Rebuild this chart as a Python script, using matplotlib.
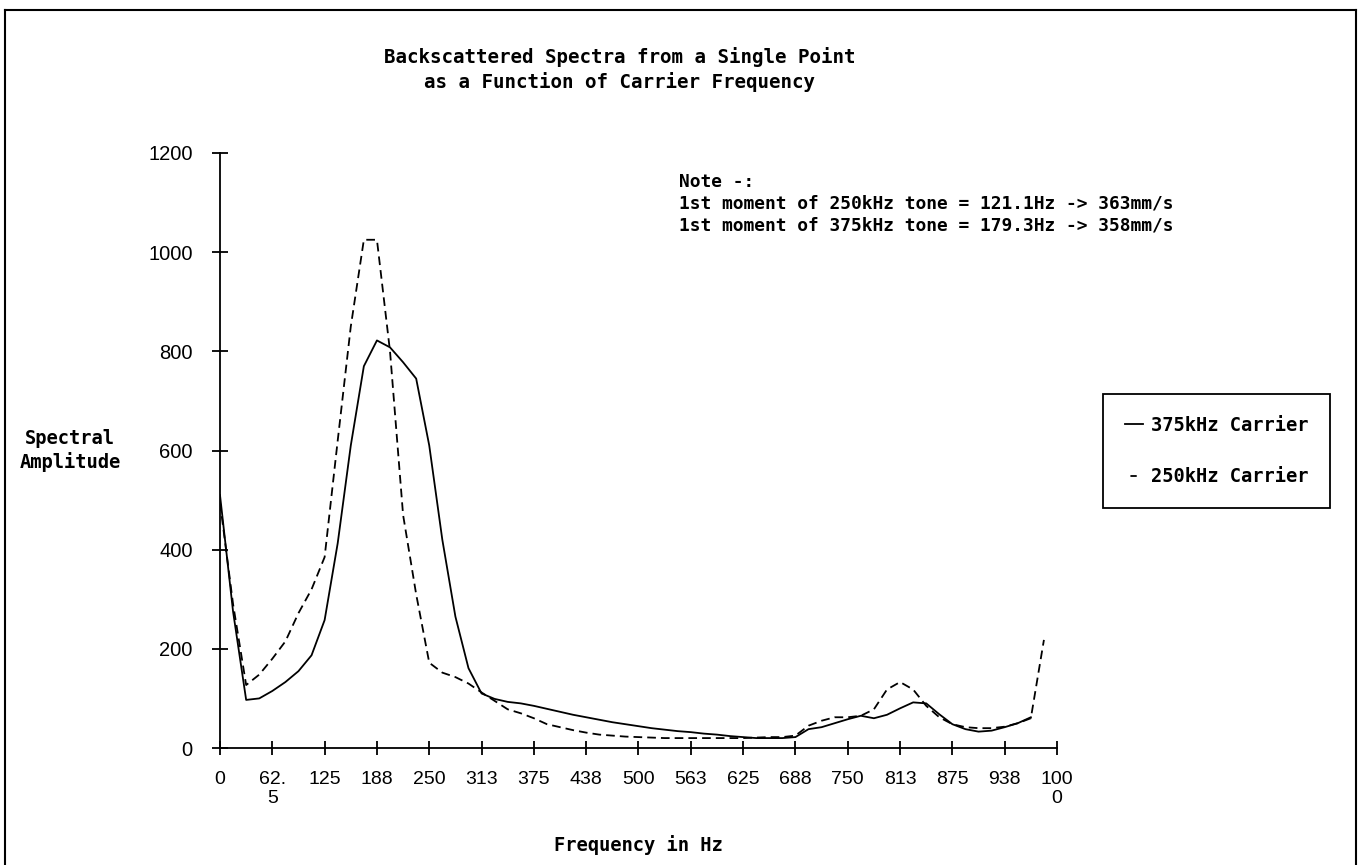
"""
Backscattered spectra from a single point, 375 kHz vs 250 kHz carrier.
"""

import numpy as np
import matplotlib
matplotlib.use("Agg")
import matplotlib.pyplot as plt
from matplotlib.lines import Line2D

# FFT bin width of the spectra (1000 Hz / 64 bins)
BIN_HZ = 15.625

# spectral amplitude per bin
amp_375 = [
    510, 275, 97, 100, 115, 133, 155, 187, 258, 413,
    610, 770, 822, 808, 778, 745, 610, 420, 265, 161,
    110, 99, 93, 90, 85, 79, 73, 67, 62, 57,
    52, 48, 44, 40, 37, 34, 32, 29, 27, 24,
    22, 20, 20, 20, 22, 38, 42, 50, 58, 65,
    60, 67, 80, 92, 90, 68, 48, 38, 33, 35,
    42, 50, 62,
]
amp_250 = [
    495, 290, 127, 148, 180, 215, 272, 320, 385, 620,
    850, 1025, 1025, 800, 470, 310, 172, 152, 143, 130,
    112, 95, 78, 70, 60, 48, 42, 36, 31, 27,
    25, 23, 22, 21, 20, 20, 20, 20, 20, 20,
    20, 21, 22, 22, 25, 45, 55, 62, 62, 65,
    78, 118, 133, 118, 85, 62, 48, 42, 40, 40,
    43, 50, 60, 218,
]
series_labels = ["375kHz Carrier", "250kHz Carrier"]

tick_hz = [i * 62.5 for i in range(17)]
tick_labels = ["0", "62.\n5", "125", "188", "250", "313", "375", "438", "500",
               "563", "625", "688", "750", "813", "875", "938", "100\n0"]
y_ticks = [0, 200, 400, 600, 800, 1000, 1200]

title = "Backscattered Spectra from a Single Point\nas a Function of Carrier Frequency"
note = ("Note -:\n"
        "1st moment of 250kHz tone = 121.1Hz -> 363mm/s\n"
        "1st moment of 375kHz tone = 179.3Hz -> 358mm/s")

MONO = "DejaVu Sans Mono"
SANS = "Liberation Sans"
W, H = 1361, 865


def main():
    fig = plt.figure(figsize=(W / 100, H / 100), dpi=100)
    fig.patch.set_facecolor("white")
    ax = fig.add_axes([220 / W, 1 - 748 / H, 837 / W, 595 / H])

    f375 = np.arange(len(amp_375)) * BIN_HZ
    f250 = np.arange(len(amp_250)) * BIN_HZ
    ax.plot(f375, amp_375, color="black", lw=1.3)
    ax.plot(f250, amp_250, color="black", lw=1.3, dashes=(4.8, 2.8))

    ax.set_xlim(0, 1000)
    ax.set_ylim(0, 1200)
    for side in ("top", "right"):
        ax.spines[side].set_visible(False)
    for side in ("left", "bottom"):
        ax.spines[side].set_linewidth(1.3)

    ax.set_xticks(tick_hz)
    ax.set_xticklabels(tick_labels, fontfamily=SANS, fontsize=14,
                       linespacing=1.15)
    ax.set_yticks(y_ticks)
    ax.set_yticklabels([str(v) for v in y_ticks], fontfamily=SANS, fontsize=14.5)
    ax.tick_params(axis="x", direction="inout", length=9.5, width=1.3, pad=12)
    ax.tick_params(axis="y", direction="inout", length=11.5, width=1.3, pad=14)

    ax.set_xlabel("Frequency in Hz", fontfamily=MONO, fontweight="bold",
                  fontsize=13.5, va="center")
    ax.xaxis.set_label_coords(0.5, -0.163)
    ax.set_ylabel("Spectral\nAmplitude", fontfamily=MONO, fontweight="bold",
                  fontsize=13.5, rotation=0, ha="center", va="center",
                  linespacing=1.2)
    ax.yaxis.set_label_coords(-0.179, 0.5)

    fig.text(620 / W, 1 - 69.5 / H, title, ha="center", va="center",
             fontfamily=MONO, fontweight="bold", fontsize=13.8, linespacing=1.3)
    fig.text(679 / W, 1 - 173 / H, note, ha="left", va="top",
             fontfamily=MONO, fontweight="bold", fontsize=12.9, linespacing=1.28)

    # 250 kHz handle shows a single short dash, centred in the handle
    handles = [
        Line2D([], [], color="black", lw=1.3),
        Line2D([], [], color="black", lw=1.3, linestyle=(20.5, (3.5, 20))),
    ]
    leg = fig.legend(handles, series_labels, loc="upper left",
                     bbox_to_anchor=(1103 / W, 1 - 394 / H),
                     prop={"family": MONO, "weight": "bold", "size": 13.5},
                     frameon=True, fancybox=False, edgecolor="black",
                     framealpha=1, handlelength=1.0, handletextpad=0.4,
                     labelspacing=1.75, borderpad=1.15, borderaxespad=0)
    leg.get_frame().set_linewidth(1.3)

    # page frame of the original figure
    for xs, ys in (([5, 1356], [10, 10]), ([5, 5], [10, 865]),
                   ([1356, 1356], [10, 865])):
        fig.add_artist(Line2D([x / W for x in xs], [1 - y / H for y in ys],
                              transform=fig.transFigure, color="black", lw=1.5))

    fig.savefig("out.png", dpi=100)
    plt.close(fig)


if __name__ == "__main__":
    main()
